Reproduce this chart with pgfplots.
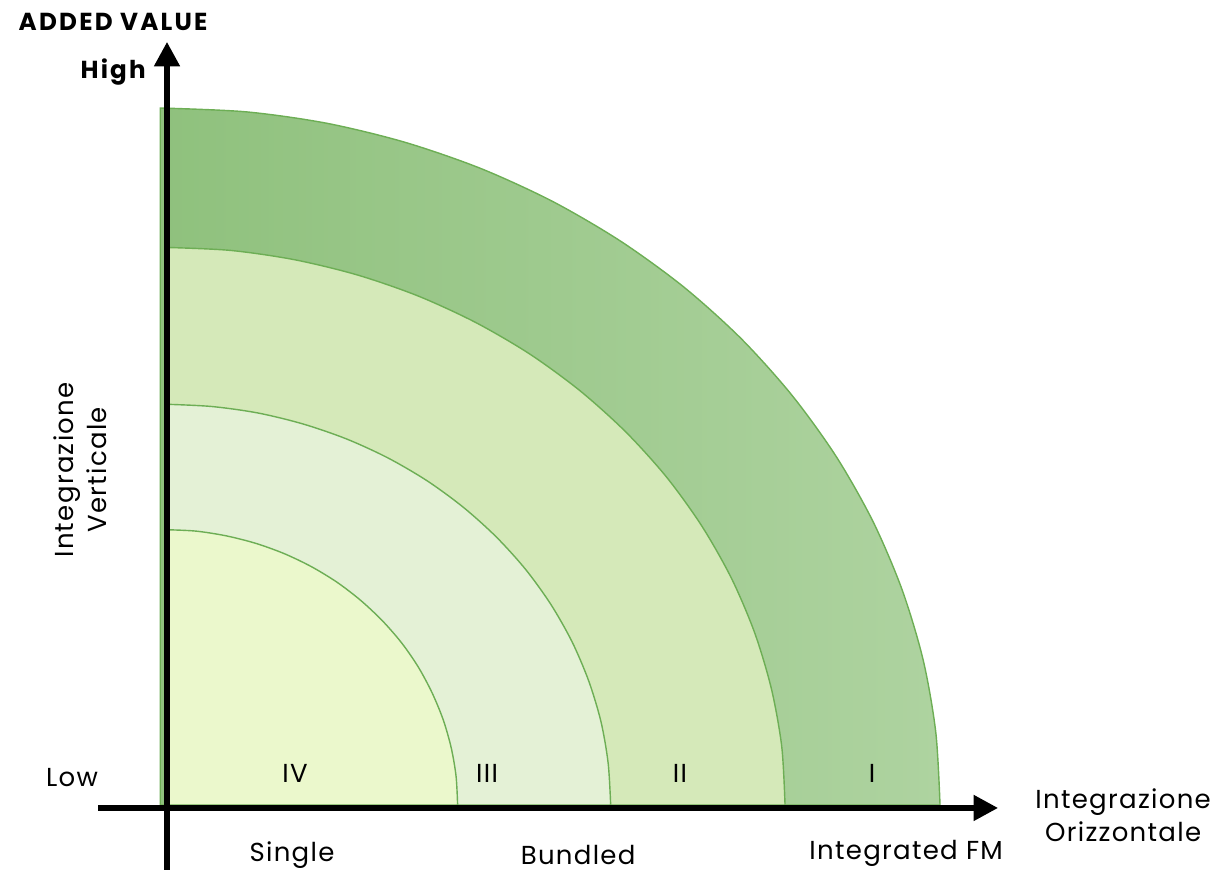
\documentclass[border=0pt]{standalone}
\usepackage{fontspec}
\setmainfont{Poppins}[LetterSpace=5]
\usepackage{pgfplots}
\pgfplotsset{compat=1.18}
\usetikzlibrary{arrows.meta}

\definecolor{bandIa}{HTML}{8FC17D}
\definecolor{bandIb}{HTML}{AED3A0}
\definecolor{bandII}{HTML}{D5E9B9}
\definecolor{bandIII}{HTML}{E4F1D6}
\definecolor{bandIV}{HTML}{EBF8CC}
\definecolor{edge}{HTML}{6DAE55}

\tikzset{
  lab/.style={font=\fontsize{7.4}{9.5}\selectfont, inner sep=0pt},
  blab/.style={font=\fontsize{7}{9}\selectfont\bfseries\addfontfeature{LetterSpace=9}, inner sep=0pt},
}

\begin{document}
\begin{tikzpicture}
\begin{axis}[
  scale only axis,
  width=12.19cm, height=8.70cm,
  xmin=-0.852, xmax=5.44,
  ymin=-0.373, ymax=4.62,
  axis lines=none,
  clip=false,
]
% band I (outer)
\addplot[draw=edge, line width=0.4pt, left color=bandIa, right color=bandIb, smooth] coordinates {
  (-0.025,4) (0.418,3.978) (0.832,3.913) (1.236,3.804) (1.627,3.654) (2,3.464) (2.351,3.236)
  (2.677,2.973) (2.973,2.677) (3.236,2.351) (3.464,2) (3.654,1.627) (3.804,1.236)
  (3.913,0.832) (3.978,0.418) (4,0)
} \closedcycle;
% band II
\addplot[draw=edge, line width=0.4pt, fill=bandII, smooth] coordinates {
  (0,3.2) (0.335,3.183) (0.665,3.130) (0.989,3.043) (1.302,2.923) (1.6,2.771) (1.881,2.589)
  (2.141,2.378) (2.378,2.141) (2.589,1.881) (2.771,1.6) (2.923,1.302) (3.043,0.989)
  (3.130,0.665) (3.183,0.335) (3.2,0)
} \closedcycle;
% band III
\addplot[draw=edge, line width=0.4pt, fill=bandIII, smooth] coordinates {
  (0,2.3) (0.240,2.287) (0.478,2.250) (0.711,2.187) (0.936,2.101) (1.15,1.992) (1.352,1.861)
  (1.539,1.709) (1.709,1.539) (1.861,1.352) (1.992,1.15) (2.101,0.936) (2.187,0.711)
  (2.250,0.478) (2.287,0.240) (2.3,0)
} \closedcycle;
% band IV (inner)
\addplot[draw=edge, line width=0.4pt, fill=bandIV, smooth] coordinates {
  (0,1.58) (0.158,1.572) (0.314,1.545) (0.467,1.502) (0.614,1.443) (0.755,1.368) (0.888,1.278)
  (1.010,1.174) (1.122,1.057) (1.222,0.929) (1.308,0.79) (1.379,0.642) (1.436,0.488)
  (1.477,0.328) (1.502,0.165) (1.51,0)
} \closedcycle;

% axes
\draw[line width=1.7pt, -{Triangle[length=7pt, width=7pt]}] (axis cs:0.01,-0.373) -- (axis cs:0.01,4.38);
\draw[line width=1.7pt, -{Triangle[length=7pt, width=7pt]}] (axis cs:-0.346,-0.017) -- (axis cs:4.30,-0.017);

% labels
\node[blab, anchor=west] at (axis cs:-0.759,4.494) {ADDED VALUE};
\node[blab] at (axis cs:-0.268,4.207) {High};
\node[lab] at (axis cs:-0.480,0.155) {Low};
\node[lab] at (axis cs:0.671,0.184) {IV};
\node[lab] at (axis cs:1.662,0.184) {III};
\node[lab] at (axis cs:2.658,0.184) {II};
\node[lab] at (axis cs:3.649,0.184) {I};
\node[lab] at (axis cs:0.655,-0.285) {Single};
\node[lab] at (axis cs:2.132,-0.285) {Bundled};
\node[lab] at (axis cs:3.825,-0.280) {Integrated FM};
\node[lab, align=center] at (axis cs:4.945,-0.057) {Integrazione\\Orizzontale};
\node[lab, align=center, rotate=90] at (axis cs:-0.439,1.923) {Integrazione\\Verticale};
\end{axis}
\pgfresetboundingbox
\useasboundingbox (current axis.south west) rectangle (current axis.north east);
\end{tikzpicture}
\end{document}
